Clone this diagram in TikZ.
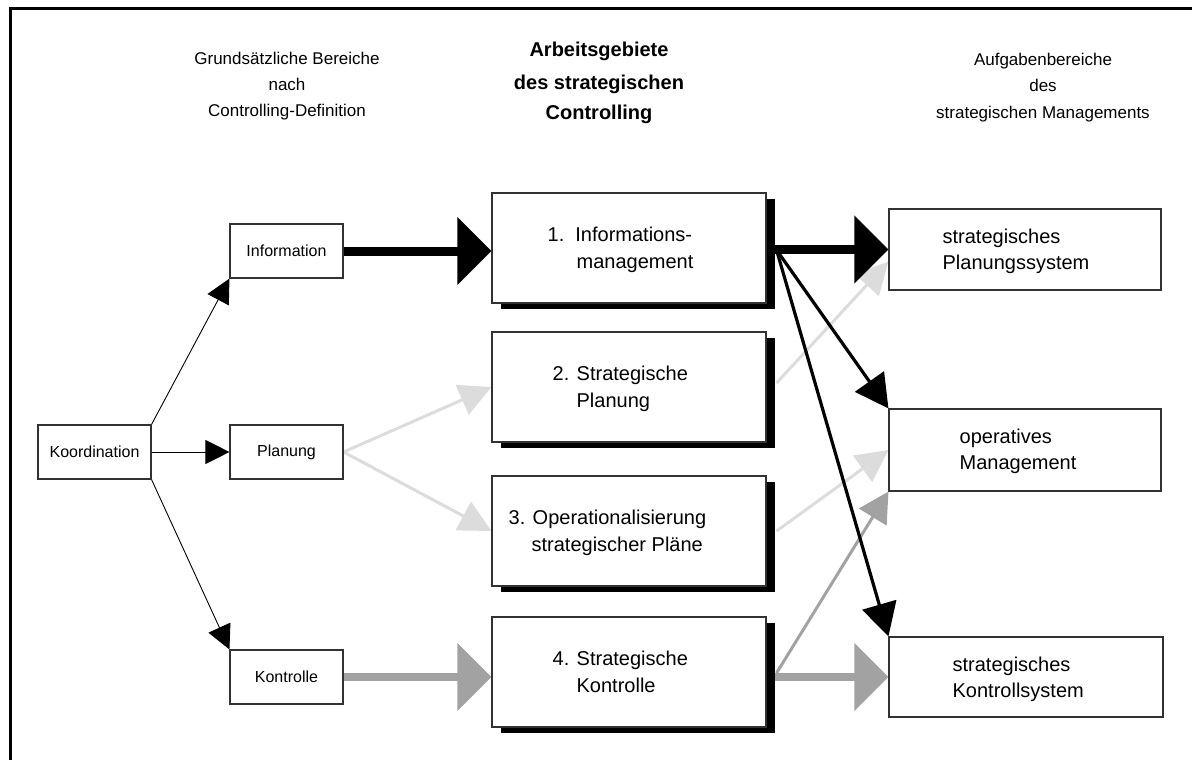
\documentclass[tikz,border=0pt]{standalone}
\usepackage{fontspec}
\setmainfont{Liberation Sans}
\usetikzlibrary{arrows.meta,calc,shadows}
\pgfdeclarelayer{bg}
\pgfsetlayers{bg,main}
\definecolor{lightgr}{RGB}{220,220,220}
\definecolor{midgr}{RGB}{162,162,162}
\definecolor{boxline}{RGB}{50,50,50}

\begin{document}
\begin{tikzpicture}[x=1pt,y=-1pt,
  smallbox/.style={draw=boxline, line width=1.1pt, fill=white, minimum width=113pt,
    minimum height=54pt, inner sep=0pt, font=\fontsize{16}{19}\selectfont},
  areabox/.style={draw=boxline, line width=1.1pt, fill=white, minimum width=274pt,
    minimum height=110pt, inner sep=0pt,
    general shadow={shadow xshift=9pt, shadow yshift=-6pt, fill=black}},
  taskbox/.style={draw=boxline, line width=1.1pt, fill=white, minimum width=272pt,
    minimum height=81pt, inner sep=0pt},
  boxtext/.style={anchor=base west, inner sep=0pt, font=\fontsize{20}{24}\selectfont},
  headtext/.style={anchor=base, inner sep=0pt, font=\fontsize{17}{20}\selectfont},
  titletext/.style={anchor=base, inner sep=0pt, font=\bfseries\fontsize{20}{24}\selectfont},
  linkthin/.style={draw=black, line width=0.9pt, -{Triangle[length=24pt,width=24pt]}},
  linkbold/.style={draw=black, line width=9pt, -{Triangle[length=34pt,width=66pt]}},
  linkdiag/.style={draw=black, line width=3.2pt, -{Triangle[length=33pt,width=35pt]}},
  linklight/.style={draw=lightgr, line width=3pt, -{Triangle[length=32pt,width=32pt]}},
  linkmid/.style={draw=midgr, line width=3pt, -{Triangle[length=30pt,width=32pt]}},
  linkmidbold/.style={draw=midgr, line width=8.5pt, -{Triangle[length=34pt,width=66pt]}}
]
\useasboundingbox (0,0) rectangle (1192,760);

% frame: top and left rule
\draw[line width=3pt] (10,762) -- (10,9) -- (1194,9);

% column headings
\node[headtext] (hl1) at (287,65) {Grundsätzliche Bereiche};
\node[headtext] (hl2) at (287,91) {nach};
\node[headtext] (hl3) at (287,117) {Controlling-Definition};
\node[titletext] (hm1) at (599,57) {Arbeitsgebiete};
\node[titletext] (hm2) at (599,89) {des strategischen};
\node[titletext] (hm3) at (599,120) {Controlling};
\node[headtext] (hr1) at (1043,66) {Aufgabenbereiche};
\node[headtext] (hr2) at (1043,92) {des};
\node[headtext] (hr3) at (1043,118) {strategischen Managements};

% left column
\node[smallbox] (koord) at (94.5,452) {Koordination};
\node[smallbox] (info) at (286.5,251) {Information};
\node[smallbox] (plan) at (286.5,452) {Planung};
\node[smallbox] (kontr) at (286.5,677) {Kontrolle};

% middle column
\node[areabox] (b1) at (629,248) {};
\node[areabox] (b2) at (629,387) {};
\node[areabox] (b3) at (629,531) {};
\node[areabox] (b4) at (629,672) {};
\node[boxtext] (t1a) at ($(b1.north west)+(56,49)$) {1.\ \ Informations-};
\node[boxtext] (t1b) at ($(b1.north west)+(85,76)$) {management};
\node[boxtext] (t2a) at ($(b2.north west)+(61,49)$) {2. Strategische};
\node[boxtext] (t2b) at ($(b2.north west)+(85,76)$) {Planung};
\node[boxtext] (t3a) at ($(b3.north west)+(17,49)$) {3. Operationalisierung};
\node[boxtext] (t3b) at ($(b3.north west)+(40,76)$) {strategischer Pläne};
\node[boxtext] (t4a) at ($(b4.north west)+(61,49)$) {4. Strategische};
\node[boxtext] (t4b) at ($(b4.north west)+(85,76)$) {Kontrolle};

% right column
\node[taskbox] (ra) at (1025,249.5) {};
\node[taskbox, minimum height=82pt] (rb) at (1025,450) {};
\node[taskbox, minimum width=274pt, minimum height=80pt] (rc) at (1026,677) {};
\node[boxtext] (tra) at ($(ra.north west)+(54,35)$) {strategisches};
\node[boxtext] (trb) at ($(ra.north west)+(54,61)$) {Planungssystem};
\node[boxtext] (trc) at ($(rb.north west)+(71,35)$) {operatives};
\node[boxtext] (trd) at ($(rb.north west)+(71,61)$) {Management};
\node[boxtext] (tre) at ($(rc.north west)+(64,35)$) {strategisches};
\node[boxtext] (trf) at ($(rc.north west)+(64,61)$) {Kontrollsystem};

% exit points on the shadowed right edges
\coordinate (b1o) at ($(b1.east)+(10,2)$);
\coordinate (b2o) at ($(b2.east)+(10,-4)$);
\coordinate (b3o) at ($(b3.east)+(10,0)$);
\coordinate (b4o) at ($(b4.east)+(10,1)$);
\coordinate (rain) at ($(ra.west)+(0,12)$);

\begin{pgfonlayer}{bg}
  % Koordination to the three areas
  \draw[linkthin] (koord.north east) -- (info.south west);
  \draw[linkthin] (koord.east) -- (plan.west);
  \draw[linkthin] (koord.south east) -- (kontr.north west);
  % areas to working fields
  \draw[linkbold] (info.east) -- (info.east -| b1.west);
  \draw[linklight] (plan.east) -- (b2.west);
  \draw[linklight] (plan.east) -- (b3.west);
  \draw[linkmidbold] (kontr.east) -- (kontr.east -| b4.west);
  % working fields to management tasks
  \draw[linklight] (b2o) -- (rain);
  \draw[linklight] (b3o) -- (rb.west);
  \draw[linkmid] (b4o) -- (rb.south west);
  \draw[linkmidbold] (b4.east |- rc.west) -- (rc.west);
  \draw[linkbold] (b1.east |- ra.west) -- (ra.west);
  \draw[linkdiag] (b1o) -- (rb.north west);
  \draw[linkdiag] (b1o) -- (rc.north west);
\end{pgfonlayer}
\end{tikzpicture}
\end{document}
